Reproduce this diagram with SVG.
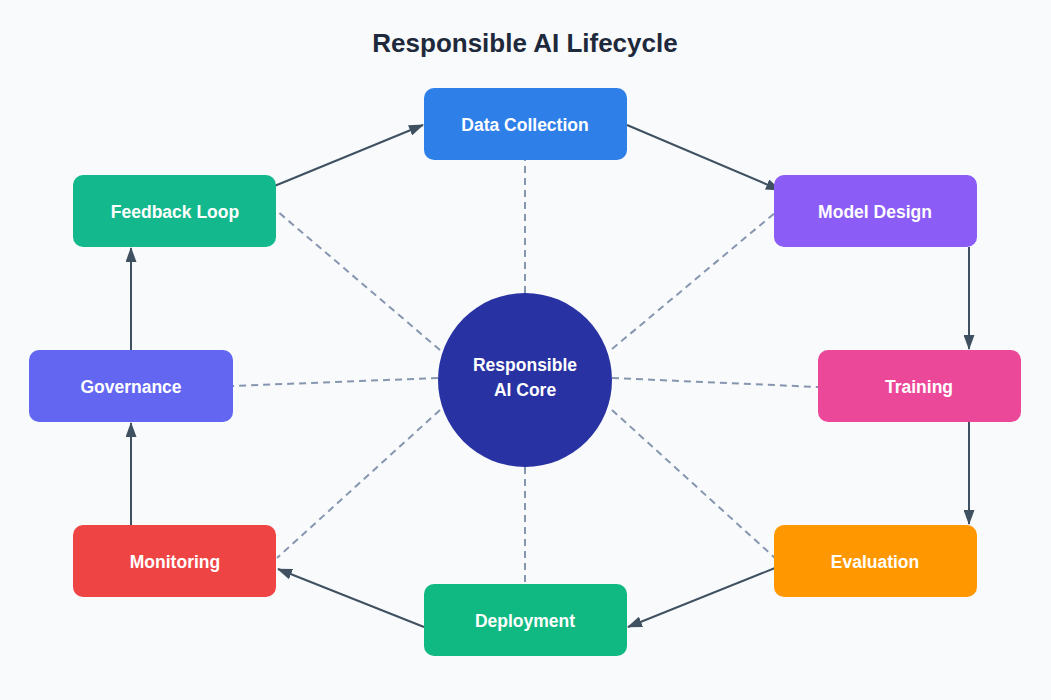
<svg xmlns="http://www.w3.org/2000/svg" width="1051" height="700" viewBox="0 0 1051 700">
<style>
.bg{fill:#f8fafc}
.title{font-family:"Liberation Sans",Arial,sans-serif;font-size:26px;font-weight:bold;fill:#1e293b;text-anchor:middle}
.lbl{font-family:"Liberation Sans",Arial,sans-serif;font-size:17.5px;font-weight:bold;fill:#ffffff;text-anchor:middle;dominant-baseline:central}
.dash{stroke:#8796b0;stroke-width:2;stroke-dasharray:7 5;fill:none}
.arr{stroke:#3f5161;stroke-width:2;fill:none;marker-end:url(#ah)}
</style>
<defs>
<marker id="ah" markerWidth="15" markerHeight="11" refX="14" refY="5.5" orient="auto" markerUnits="userSpaceOnUse">
<path d="M0,0 L15,5.5 L0,11 Z" fill="#3f5161"/>
</marker>
</defs>
<rect class="bg" x="0" y="0" width="1051" height="700"/>
<text class="title" x="525" y="52">Responsible AI Lifecycle</text>
<g id="connectors">
<line class="dash" x1="525" y1="293" x2="525" y2="160"/>
<line class="dash" x1="612" y1="349" x2="776" y2="212"/>
<line class="dash" x1="612" y1="378" x2="818" y2="387"/>
<line class="dash" x1="612" y1="410" x2="775" y2="558"/>
<line class="dash" x1="525" y1="467" x2="525" y2="584"/>
<line class="dash" x1="440" y1="410" x2="277" y2="558"/>
<line class="dash" x1="438" y1="378" x2="233" y2="386"/>
<line class="dash" x1="440" y1="350" x2="277" y2="211"/>
<line class="arr" x1="272" y1="187" x2="423" y2="125"/>
<line class="arr" x1="627" y1="125" x2="780" y2="190"/>
<line class="arr" x1="969" y1="247" x2="969" y2="349"/>
<line class="arr" x1="969" y1="422" x2="969" y2="524"/>
<line class="arr" x1="775" y1="568" x2="628" y2="627"/>
<line class="arr" x1="424" y1="627" x2="278" y2="569"/>
<line class="arr" x1="131" y1="525" x2="131" y2="423"/>
<line class="arr" x1="131" y1="350" x2="131" y2="248"/>
</g>
<g id="core">
<circle cx="525" cy="380" r="87" fill="#2832a2"/>
<text class="lbl" x="525" y="365">Responsible</text>
<text class="lbl" x="525" y="390">AI Core</text>
</g>
<g id="data-collection">
<rect x="424" y="88" width="203" height="72" rx="10" fill="#2f7fe9"/>
<text class="lbl" x="525" y="125">Data Collection</text>
</g>
<g id="model-design">
<rect x="774" y="175" width="203" height="72" rx="10" fill="#8b5cf6"/>
<text class="lbl" x="875" y="212">Model Design</text>
</g>
<g id="training">
<rect x="818" y="350" width="203" height="72" rx="10" fill="#ec4899"/>
<text class="lbl" x="919" y="387">Training</text>
</g>
<g id="evaluation">
<rect x="774" y="525" width="203" height="72" rx="10" fill="#ff9800"/>
<text class="lbl" x="875" y="562">Evaluation</text>
</g>
<g id="deployment">
<rect x="424" y="584" width="203" height="72" rx="10" fill="#10b981"/>
<text class="lbl" x="525" y="621">Deployment</text>
</g>
<g id="monitoring">
<rect x="73" y="525" width="203" height="72" rx="10" fill="#ef4444"/>
<text class="lbl" x="175" y="562">Monitoring</text>
</g>
<g id="governance">
<rect x="29" y="350" width="204" height="72" rx="10" fill="#6366f1"/>
<text class="lbl" x="131" y="387">Governance</text>
</g>
<g id="feedback-loop">
<rect x="73" y="175" width="203" height="72" rx="10" fill="#13b88c"/>
<text class="lbl" x="175" y="212">Feedback Loop</text>
</g>
</svg>
